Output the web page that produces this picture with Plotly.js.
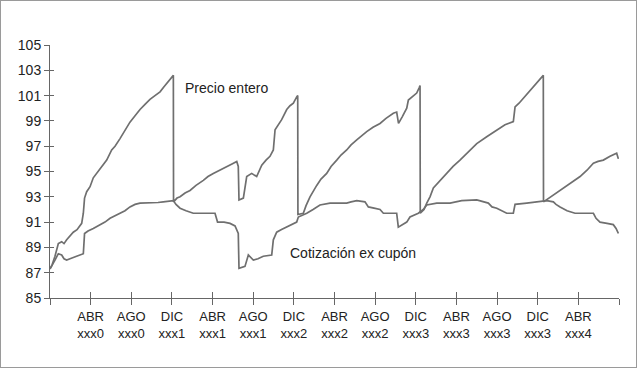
<!DOCTYPE html>
<html>
<head>
<meta charset="utf-8">
<script src="https://cdn.plot.ly/plotly-3.0.1.min.js"></script>
<style>
  html, body { margin: 0; padding: 0; background: #fff; }
  #wrap { position: relative; width: 638px; height: 369px; }
  #chart { position: absolute; left: 0; top: 0; width: 638px; height: 369px; }
  #frame { position: absolute; left: 0; top: 0; width: 637px; height: 368px; box-sizing: border-box; border: 1px solid #9a9a9a; pointer-events: none; }
</style>
</head>
<body>
<div id="wrap"><div id="chart"></div><div id="frame"></div></div>
<script>
// x in months from start of series
const tickMonths = [0, 4, 8, 12, 16, 20, 24, 28, 32, 36, 40, 44, 48, 52, 56];
const tickLabels = ['', 'ABR<br>xxx0', 'AGO<br>xxx0', 'DIC<br>xxx1', 'ABR<br>xxx1', 'AGO<br>xxx1', 'DIC<br>xxx2',
  'ABR<br>xxx2', 'AGO<br>xxx2', 'DIC<br>xxx3', 'ABR<br>xxx3', 'AGO<br>xxx3', 'DIC<br>xxx3', 'ABR<br>xxx4', ''];
const yTicks = [85, 87, 89, 91, 93, 95, 97, 99, 101, 103, 105];
const yInnerTicks = [87, 89, 91, 93, 95, 97, 99, 101, 103];

const precioX = [0.00, 0.20, 0.49, 0.82, 1.15, 1.38, 1.64, 1.97, 2.29, 2.66, 3.12, 3.28, 3.40, 3.61, 3.94, 4.26, 4.53, 4.92, 5.22, 5.58,
  6.07, 6.40, 6.89, 7.38, 7.87, 8.37, 8.86, 9.35, 9.84, 10.33, 10.83, 11.22, 11.64, 12.14, 12.16,
  12.50, 12.80, 13.29, 13.78, 14.37, 15.09, 15.55, 16.07, 16.73, 17.39, 17.91, 18.38, 18.53, 18.60, 19.03, 19.36, 19.85, 20.34,
  20.84, 21.26, 21.65, 21.98, 22.15, 22.80, 23.30, 23.62, 23.95, 24.28, 24.38, 24.40,
  24.93, 25.20, 25.59, 26.25, 26.67, 27.23, 27.66, 28.22, 28.64, 29.20, 29.63, 30.19, 30.61, 31.17, 31.79, 32.48, 33.07, 33.79,
  34.12, 34.30, 34.65, 35.11, 35.27, 35.63, 36.09, 36.32, 36.42, 36.44,
  36.81, 37.08, 37.40, 37.73, 38.39, 39.04, 39.67, 40.35, 41.14, 42.00, 42.98, 43.97, 44.78, 45.60, 45.77, 46.16, 46.58, 47.05,
  47.57, 48.03, 48.55, 48.57,
  49.11, 49.54, 50.20, 50.86, 51.48, 52.17, 52.85, 53.48, 53.94, 54.46, 55.12, 55.77, 55.94];
const precioY = [87.3, 87.6, 88.3, 89.3, 89.45, 89.3, 89.6, 89.9, 90.2, 90.4, 90.9, 91.7, 92.9, 93.4, 93.8, 94.5, 94.8, 95.25, 95.6, 95.9,
  96.7, 97.0, 97.6, 98.3, 98.9, 99.4, 99.9, 100.3, 100.7, 101.0, 101.3, 101.7, 102.1, 102.6, 92.6,
  92.9, 93.0, 93.3, 93.5, 93.9, 94.3, 94.6, 94.85, 95.1, 95.4, 95.6, 95.8, 95.4, 92.75, 92.9, 94.6, 94.85, 94.6,
  95.5, 95.9, 96.2, 96.7, 98.3, 99.1, 99.9, 100.2, 100.4, 100.9, 101.0, 91.6,
  91.7, 92.3, 93.0, 93.9, 94.4, 94.85, 95.4, 95.9, 96.3, 96.7, 97.1, 97.5, 97.8, 98.15, 98.5, 98.8, 99.2, 99.6,
  99.7, 98.8, 99.3, 100.0, 100.65, 100.9, 101.2, 101.6, 101.8, 91.7,
  92.0, 92.5, 93.0, 93.7, 94.3, 94.85, 95.4, 95.9, 96.5, 97.2, 97.75, 98.3, 98.7, 98.95, 100.1, 100.4, 100.8, 101.2,
  101.7, 102.1, 102.6, 92.6,
  92.9, 93.1, 93.5, 93.9, 94.2, 94.6, 95.1, 95.65, 95.8, 95.9, 96.2, 96.45, 96.0];

const cuponX = [0.00, 0.30, 0.49, 0.82, 1.15, 1.38, 1.64, 1.97, 2.29, 2.76, 3.28, 3.40, 3.74, 4.26, 4.92, 5.41, 5.91, 6.40, 6.89, 7.38,
  7.87, 8.37, 8.86, 9.55, 10.17, 10.63, 11.15, 11.61, 12.14, 12.40, 12.80, 13.39, 14.10, 15.26, 16.24, 16.49, 17.13, 17.72,
  18.21, 18.53, 18.60, 19.19, 19.52, 20.01, 20.47, 20.99, 21.82, 21.98, 22.31, 22.74, 23.30, 23.82, 24.28, 24.44, 25.27, 25.89,
  26.57, 27.56, 28.35, 29.20, 29.63, 30.19, 31.00, 31.33, 31.89, 32.48, 32.81, 33.46, 34.12, 34.28, 35.11, 35.43, 36.25, 36.74,
  37.08, 38.06, 39.37, 40.52, 42.00, 43.14, 43.50, 43.97, 44.39, 44.95, 45.60, 45.77, 46.92, 47.83, 48.89, 49.54, 49.80, 50.20,
  50.89, 51.67, 52.66, 53.48, 53.74, 54.13, 54.82, 55.44, 55.71, 55.94];
const cuponY = [87.3, 87.8, 88.0, 88.5, 88.4, 88.1, 88.0, 88.1, 88.2, 88.3, 88.5, 90.1, 90.3, 90.5, 90.8, 91.0, 91.3, 91.5, 91.7, 91.9,
  92.2, 92.4, 92.5, 92.5, 92.5, 92.55, 92.6, 92.65, 92.7, 92.4, 92.1, 91.9, 91.7, 91.7, 91.7, 91.0, 91.0, 90.9,
  90.7, 90.1, 87.35, 87.5, 88.4, 88.0, 88.1, 88.3, 88.4, 89.6, 90.2, 90.4, 90.6, 90.8, 91.0, 91.4, 91.7, 92.0,
  92.35, 92.5, 92.5, 92.5, 92.6, 92.7, 92.6, 92.2, 92.1, 92.0, 91.7, 91.7, 91.7, 90.6, 91.0, 91.4, 91.7, 92.0,
  92.35, 92.5, 92.5, 92.7, 92.75, 92.5, 92.2, 92.1, 91.9, 91.7, 91.7, 92.4, 92.5, 92.6, 92.7, 92.6, 92.4, 92.2,
  91.9, 91.7, 91.7, 91.7, 91.3, 91.0, 90.9, 90.8, 90.5, 90.1];

const lineStyle = { color: '#6f6f6f', width: 1.7 };
const font = 'Liberation Sans, Arial, Helvetica, sans-serif';

const traces = [
  { x: precioX, y: precioY, type: 'scatter', mode: 'lines', name: 'Precio entero', line: lineStyle, hoverinfo: 'skip' },
  { x: cuponX, y: cuponY, type: 'scatter', mode: 'lines', name: 'Cotización ex cupón', line: lineStyle, hoverinfo: 'skip' },
  { x: [], y: [], xaxis: 'x2', yaxis: 'y2', type: 'scatter', mode: 'lines', showlegend: false, hoverinfo: 'skip' }
];

const layout = {
  width: 638, height: 369,
  margin: { l: 50, r: 19, t: 45, b: 71 },
  paper_bgcolor: '#fff', plot_bgcolor: '#fff',
  showlegend: false,
  font: { family: font, size: 13, color: '#222' },
  xaxis: {
    range: [0, 56], tickvals: tickMonths, ticktext: tickLabels,
    showgrid: false, zeroline: false, showline: true, linecolor: '#666', linewidth: 1,
    ticks: 'outside', ticklen: 6, tickcolor: '#666', tickwidth: 1,
    tickfont: { family: font, size: 13, color: '#222' }, fixedrange: true
  },
  yaxis: {
    range: [85, 105], tickvals: yTicks, ticktext: yTicks.map(String),
    showgrid: false, zeroline: false, showline: true, linecolor: '#666', linewidth: 1,
    ticks: 'outside', ticklen: 5, tickcolor: '#666', tickwidth: 1,
    tickfont: { family: font, size: 14, color: '#222' }, fixedrange: true
  },
  xaxis2: {
    overlaying: 'x', range: [0, 56], tickvals: tickMonths, showticklabels: false,
    showgrid: false, zeroline: false, showline: false,
    ticks: 'inside', ticklen: 6, tickcolor: '#666', tickwidth: 1, fixedrange: true
  },
  yaxis2: {
    overlaying: 'y', range: [85, 105], tickvals: yInnerTicks, showticklabels: false,
    showgrid: false, zeroline: false, showline: false,
    ticks: 'inside', ticklen: 4, tickcolor: '#666', tickwidth: 1, fixedrange: true
  },
  annotations: [
    { x: 13.09, y: 101.6, xref: 'x', yref: 'y', text: 'Precio entero', showarrow: false, xanchor: 'left', yanchor: 'middle',
      font: { family: font, size: 14, color: '#222' } },
    { x: 23.43, y: 88.56, xref: 'x', yref: 'y', text: 'Cotización ex cupón', showarrow: false, xanchor: 'left', yanchor: 'middle',
      font: { family: font, size: 14, color: '#222' } }
  ]
};

Plotly.newPlot('chart', traces, layout, { staticPlot: true, displayModeBar: false });
</script>
</body>
</html>
